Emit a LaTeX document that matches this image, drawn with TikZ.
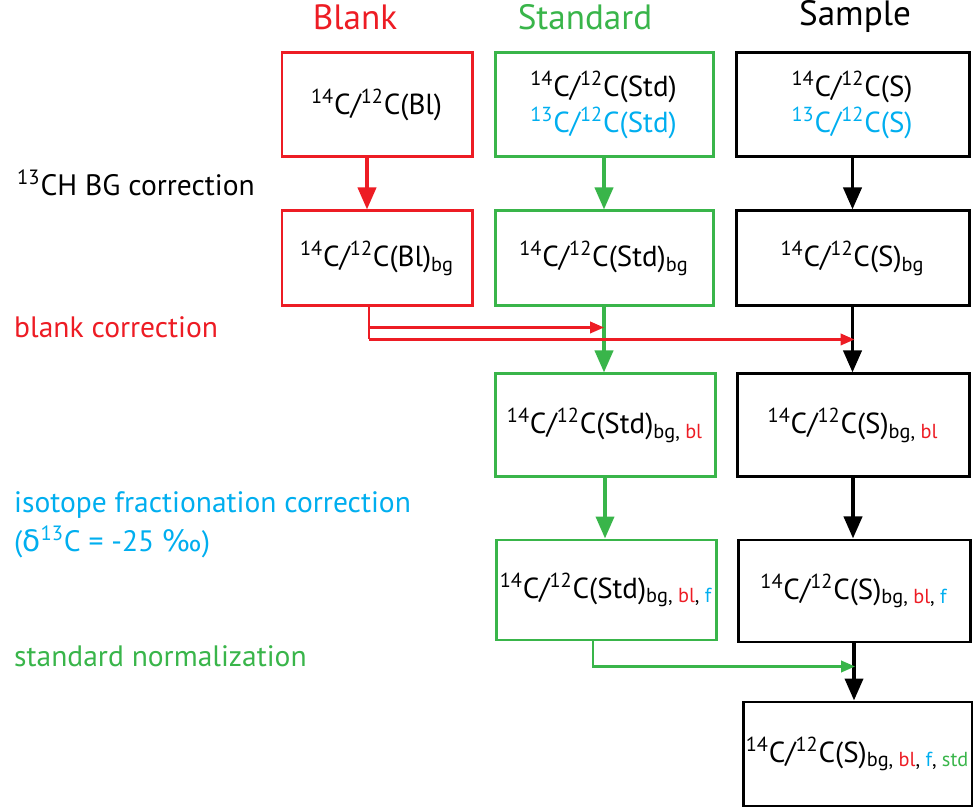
\documentclass[tikz,border=0pt]{standalone}
\usepackage{fontspec}
\setmainfont{PT Sans}
\newfontfamily\grkfont{DejaVu Sans}
\usetikzlibrary{arrows.meta,calc}
\definecolor{blankred}{HTML}{ED1C24}
\definecolor{stdgreen}{HTML}{39B54A}
\definecolor{isocyan}{HTML}{00AEEF}
\newcommand{\cratio}[3]{\textsuperscript{#1}C/\textsuperscript{12}C(#2)\textsubscript{#3}}

\begin{document}
\begin{tikzpicture}[
  box/.style={draw,line width=1.7pt,minimum height=2.0cm,align=center,font=\fontsize{16.5}{21}\selectfont},
  head/.style={font=\fontsize{20}{22}\selectfont},
  lab/.style={anchor=west,align=left,font=\fontsize{16.8}{22.5}\selectfont},
  fat/.style={line width=2.2pt,-{Triangle[length=4.4mm,width=3.6mm]}},
  slim/.style={line width=1.4pt,-{Triangle[length=2.8mm,width=2.3mm]}}]
\useasboundingbox (0,0) rectangle (19.46,16.2);
% column heads
\node[head,text=blankred] (hb) at (7.1,15.86) {Blank};
\node[head,text=stdgreen] (hs) at (11.7,15.86) {Standard};
\node[head] (hp) at (17.1,15.86) {Sample};
% blank column
\node[box,draw=blankred,minimum width=3.8cm,minimum height=2.08cm] (B1) at (7.54,14.1) {\cratio{14}{Bl}{}};
\node[box,draw=blankred,minimum width=3.8cm,minimum height=1.9cm] (B2) at (7.54,11.03) {\cratio{14}{Bl}{bg}};
% standard column
\node[box,draw=stdgreen,minimum width=4.36cm,minimum height=2.08cm] (S1) at (12.08,14.1)
  {\cratio{14}{Std}{}\\\textcolor{isocyan}{\cratio{13}{Std}{}}};
\node[box,draw=stdgreen,minimum width=4.36cm,minimum height=1.9cm] (S2) at (12.08,11.03) {\cratio{14}{Std}{bg}};
\node[box,draw=stdgreen,minimum width=4.4cm,minimum height=2.06cm] (S3) at (12.1,7.69)
  {\cratio{14}{Std}{bg, \textcolor{blankred}{bl}}};
\node[box,draw=stdgreen,minimum width=4.4cm,inner xsep=1pt] (S4) at (12.12,4.4)
  {\cratio{14}{Std}{bg, \textcolor{blankred}{bl}, \textcolor{isocyan}{f}}};
% sample column
\node[box,minimum width=4.66cm,minimum height=2.08cm] (P1) at (17.05,14.1)
  {\cratio{14}{S}{}\\\textcolor{isocyan}{\cratio{13}{S}{}}};
\node[box,minimum width=4.66cm,minimum height=1.9cm] (P2) at (17.05,11.03) {\cratio{14}{S}{bg}};
\node[box,minimum width=4.64cm,minimum height=2.06cm] (P3) at (17.06,7.69)
  {\cratio{14}{S}{bg, \textcolor{blankred}{bl}}};
\node[box,minimum width=4.64cm,minimum height=2.04cm] (P4) at (17.08,4.38)
  {\cratio{14}{S}{bg, \textcolor{blankred}{bl}, \textcolor{isocyan}{f}}};
\node[box,minimum width=4.58cm,minimum height=2.08cm,inner xsep=1pt] (P5) at (17.15,1.12)
  {\cratio{14}{S}{bg, \textcolor{blankred}{bl}, \textcolor{isocyan}{f}, \textcolor{stdgreen}{std}}};
% step labels
\node[lab] (l1) at (0.22,12.54) {\textsuperscript{13}CH BG correction};
\node[lab,text=blankred] (l2) at (0.16,9.66) {blank correction};
\node[lab,text=isocyan] (l3) at (0.16,5.7) {isotope fractionation correction\\({\grkfont δ}\textsuperscript{13}C = -25 {\grkfont ‰})};
\node[lab,text=stdgreen] (l4) at (0.16,3.08) {standard normalization};
% vertical arrows
\draw[fat,blankred] ([xshift=-2mm]B1.south) -- ([xshift=-2mm]B2.north);
\foreach \x/\y in {S1/S2,S2/S3,S3/S4} {\draw[fat,stdgreen] (\x.south) -- (\x.south |- \y.north);}
\foreach \x/\y in {P1/P2,P2/P3,P3/P4,P4/P5} {\draw[fat] (\x.south) -- (\x.south |- \y.north);}
% blank correction
\path ([xshift=-1.6mm]B2.south) ++(0,-0.40) coordinate (bl1) ++(0,-0.24) coordinate (bl2);
\draw[blankred,line width=1.4pt] ([xshift=-1.6mm]B2.south) -- (bl2);
\draw[slim,blankred] (bl1) -- (bl1 -| S2.south);
\draw[slim,blankred] (bl2) -- ($(bl2 -| P2.south)+(0.04,0)$);
% standard normalization
\path ([xshift=-2.6mm]S4.south) ++(0,-0.5) coordinate (sn);
\draw[slim,stdgreen] ([xshift=-2.6mm]S4.south) |- ($(sn -| P4.south)+(0.02,0)$);
\end{tikzpicture}
\end{document}
